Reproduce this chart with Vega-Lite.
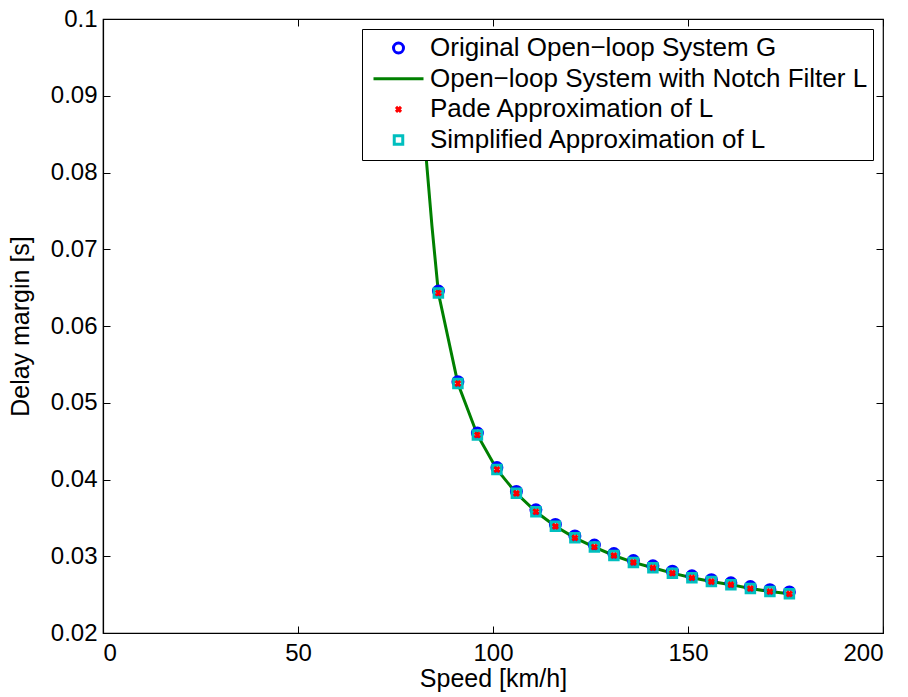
{
  "$schema": "https://vega.github.io/schema/vega-lite/v6.json",
  "width": 780,
  "height": 614,
  "autosize": {"type": "none"},
  "padding": {"left": 103, "top": 19, "right": 25, "bottom": 64},
  "background": "white",
  "config": {
    "font": "Liberation Sans",
    "view": {"stroke": "black", "strokeWidth": 1.2},
    "axis": {
      "grid": false,
      "domainColor": "black",
      "domainWidth": 1.2,
      "tickColor": "black",
      "tickWidth": 1,
      "tickSize": -7,
      "labelColor": "black",
      "labelFontSize": 24,
      "labelFont": "Liberation Sans",
      "titleColor": "black",
      "titleFontSize": 25,
      "titleFont": "Liberation Sans",
      "titleFontWeight": "normal"
    }
  },
  "datasets": {
    "curve": [
      {"speed": 81, "margin": 0.095},
      {"speed": 82.9, "margin": 0.0817},
      {"speed": 84.35, "margin": 0.073},
      {"speed": 86, "margin": 0.0643},
      {"speed": 91, "margin": 0.0525},
      {"speed": 96, "margin": 0.0458},
      {"speed": 101, "margin": 0.0413},
      {"speed": 106, "margin": 0.0382},
      {"speed": 111, "margin": 0.0358},
      {"speed": 116, "margin": 0.0339},
      {"speed": 121, "margin": 0.0324},
      {"speed": 126, "margin": 0.0312},
      {"speed": 131, "margin": 0.0301},
      {"speed": 136, "margin": 0.0292},
      {"speed": 141, "margin": 0.0285},
      {"speed": 146, "margin": 0.0278},
      {"speed": 151, "margin": 0.0272},
      {"speed": 156, "margin": 0.0267},
      {"speed": 161, "margin": 0.0263},
      {"speed": 166, "margin": 0.0258},
      {"speed": 171, "margin": 0.0254},
      {"speed": 176, "margin": 0.0251}
    ],
    "original": [
      {"speed": 86, "margin": 0.06455},
      {"speed": 91, "margin": 0.05275},
      {"speed": 96, "margin": 0.04605},
      {"speed": 101, "margin": 0.04155},
      {"speed": 106, "margin": 0.03845},
      {"speed": 111, "margin": 0.03605},
      {"speed": 116, "margin": 0.03415},
      {"speed": 121, "margin": 0.03265},
      {"speed": 126, "margin": 0.03145},
      {"speed": 131, "margin": 0.03035},
      {"speed": 136, "margin": 0.02945},
      {"speed": 141, "margin": 0.02875},
      {"speed": 146, "margin": 0.02805},
      {"speed": 151, "margin": 0.02745},
      {"speed": 156, "margin": 0.02695},
      {"speed": 161, "margin": 0.02655},
      {"speed": 166, "margin": 0.02605},
      {"speed": 171, "margin": 0.02565},
      {"speed": 176, "margin": 0.02535}
    ],
    "pade": [
      {"speed": 86, "margin": 0.0643},
      {"speed": 91, "margin": 0.0525},
      {"speed": 96, "margin": 0.0458},
      {"speed": 101, "margin": 0.0413},
      {"speed": 106, "margin": 0.0382},
      {"speed": 111, "margin": 0.0358},
      {"speed": 116, "margin": 0.0339},
      {"speed": 121, "margin": 0.0324},
      {"speed": 126, "margin": 0.0312},
      {"speed": 131, "margin": 0.0301},
      {"speed": 136, "margin": 0.0292},
      {"speed": 141, "margin": 0.0285},
      {"speed": 146, "margin": 0.0278},
      {"speed": 151, "margin": 0.0272},
      {"speed": 156, "margin": 0.0267},
      {"speed": 161, "margin": 0.0263},
      {"speed": 166, "margin": 0.0258},
      {"speed": 171, "margin": 0.0254},
      {"speed": 176, "margin": 0.0251}
    ],
    "simplified": [
      {"speed": 86, "margin": 0.0643},
      {"speed": 91, "margin": 0.0525},
      {"speed": 96, "margin": 0.0458},
      {"speed": 101, "margin": 0.0413},
      {"speed": 106, "margin": 0.0382},
      {"speed": 111, "margin": 0.0358},
      {"speed": 116, "margin": 0.0339},
      {"speed": 121, "margin": 0.0324},
      {"speed": 126, "margin": 0.0312},
      {"speed": 131, "margin": 0.0301},
      {"speed": 136, "margin": 0.0292},
      {"speed": 141, "margin": 0.0285},
      {"speed": 146, "margin": 0.0278},
      {"speed": 151, "margin": 0.0272},
      {"speed": 156, "margin": 0.0267},
      {"speed": 161, "margin": 0.0263},
      {"speed": 166, "margin": 0.0258},
      {"speed": 171, "margin": 0.0254},
      {"speed": 176, "margin": 0.0251}
    ]
  },
  "resolve": {"axis": {"x": "independent", "y": "independent"}},
  "layer": [
    {
      "data": {"name": "curve"},
      "transform": [{"calculate": "'Open−loop System with Notch Filter L'", "as": "series"}],
      "mark": {"type": "line", "strokeWidth": 3},
      "encoding": {
        "x": {
          "field": "speed", "type": "quantitative",
          "scale": {"domain": [0, 200], "nice": false, "zero": false},
          "axis": {"orient": "bottom", "title": "Speed [km/h]", "values": [0, 50, 100, 150, 200], "format": "d", "labelPadding": 15, "titlePadding": 1}
        },
        "y": {
          "field": "margin", "type": "quantitative",
          "scale": {"domain": [0.02, 0.1], "nice": false, "zero": false},
          "axis": {"orient": "left", "title": "Delay margin [s]", "values": [0.02, 0.03, 0.04, 0.05, 0.06, 0.07, 0.08, 0.09, 0.1], "format": ".2~f", "labelPadding": 13, "titlePadding": 17}
        },
        "color": {"field": "series", "type": "nominal", "sort": null,
          "scale": {"domain": ["Original Open−loop System G", "Open−loop System with Notch Filter L", "Pade Approximation of L", "Simplified Approximation of L"], "range": ["#0000ff", "#008000", "#ff0000", "#00bfbf"]},
          "legend": {
            "title": null, "orient": "none", "legendX": 259, "legendY": 10,
            "fillColor": "white", "strokeColor": "black", "padding": 5,
            "symbolSize": 2500, "symbolStrokeWidth": 3, "symbolOffset": 5,
            "labelFontSize": 26, "labelColor": "black",
            "labelFont": "Liberation Sans", "labelOffset": 5, "clipHeight": 28, "rowPadding": 2.7, "labelLimit": 600
          }
        }
      }
    },
    {
      "data": {"name": "original"},
      "transform": [{"calculate": "'Original Open−loop System G'", "as": "series"}],
      "mark": {"type": "point", "filled": false, "strokeWidth": 3, "size": 2500, "opacity": 1},
      "encoding": {
        "x": {"field": "speed", "type": "quantitative", "axis": null},
        "y": {"field": "margin", "type": "quantitative", "axis": null},
        "color": {"field": "series", "type": "nominal", "sort": null},
        "shape": {"field": "series", "type": "nominal", "sort": null,
          "scale": {"domain": ["Original Open−loop System G", "Open−loop System with Notch Filter L", "Pade Approximation of L", "Simplified Approximation of L"],
            "range": ["M0.2,0A0.2,0.2,0,1,1,-0.2,0A0.2,0.2,0,1,1,0.2,0Z", "M-1,0L1,0", "M-0.1,-0.1L0.1,0.1M-0.1,0.1L0.1,-0.1", "M-0.17,-0.17L0.17,-0.17L0.17,0.17L-0.17,0.17Z"]}
        }
      }
    },
    {
      "data": {"name": "simplified"},
      "transform": [{"calculate": "'Simplified Approximation of L'", "as": "series"}],
      "mark": {"type": "point", "filled": false, "strokeWidth": 3, "size": 2500, "opacity": 1},
      "encoding": {
        "x": {"field": "speed", "type": "quantitative", "axis": null},
        "y": {"field": "margin", "type": "quantitative", "axis": null},
        "color": {"field": "series", "type": "nominal", "sort": null},
        "shape": {"field": "series", "type": "nominal", "sort": null}
      }
    },
    {
      "data": {"name": "pade"},
      "transform": [{"calculate": "'Pade Approximation of L'", "as": "series"}],
      "mark": {"type": "point", "filled": false, "strokeWidth": 3, "size": 2500, "opacity": 1},
      "encoding": {
        "x": {"field": "speed", "type": "quantitative", "axis": null},
        "y": {"field": "margin", "type": "quantitative", "axis": null},
        "color": {"field": "series", "type": "nominal", "sort": null},
        "shape": {"field": "series", "type": "nominal", "sort": null}
      }
    },
    {
      "data": {"name": "pade"},
      "mark": {"type": "point", "opacity": 0},
      "encoding": {
        "x": {"field": "speed", "type": "quantitative", "axis": {"orient": "top", "labels": false, "title": null, "values": [0, 50, 100, 150, 200], "domain": false}},
        "y": {"field": "margin", "type": "quantitative", "axis": {"orient": "right", "labels": false, "title": null, "values": [0.02, 0.03, 0.04, 0.05, 0.06, 0.07, 0.08, 0.09, 0.1], "domain": false}}
      }
    }
  ]
}
